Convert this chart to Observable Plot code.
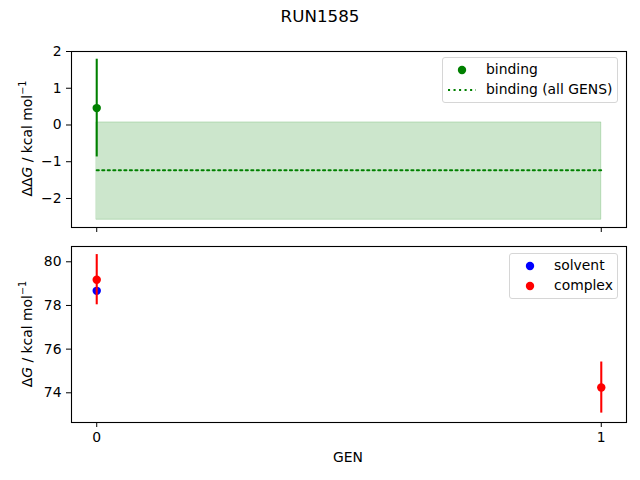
<!DOCTYPE html>
<html><head><meta charset="utf-8">
<script src="https://cdn.jsdelivr.net/npm/d3@7"></script>
<script src="https://cdn.jsdelivr.net/npm/@observablehq/plot@0.6"></script>
<style>
body{margin:0;background:#fff;}
#fig{position:relative;width:640px;height:480px;font-family:"DejaVu Sans",sans-serif;overflow:hidden;background:#fff;}
#fig .title{position:absolute;left:0;width:640px;top:6px;text-align:center;font-size:16.7px;line-height:20px;z-index:5;}
#fig .panel{position:absolute;left:0;}
#fig .legend{position:absolute;box-sizing:border-box;background:rgba(255,255,255,0.8);border:1px solid #d6d6d6;border-radius:3px;font-size:13.9px;z-index:6;}
#fig .legend .row{position:absolute;white-space:nowrap;line-height:16px;}
#fig .legend svg{position:absolute;}
</style>
</head><body>
<div id="fig">
  <div class="panel" id="top" style="top:0px"></div>
  <div class="panel" id="bottom" style="top:240px"></div>
  <div class="title">RUN1585</div>
</div>
<script>
// ---- data ----
const gens = [0, 1];
const bindingGen = [0];
const bindingVal = [0.46];
const bindingErr = [1.33];
const allGensGen = [0, 1];
const allGensVal = [-1.23, -1.23];
const allGensLow = [-2.58, -2.58];
const allGensHigh = [0.07, 0.07];
const solventGen = [0];
const solventVal = [78.67];
const complexGen = [0, 1];
const complexVal = [79.18, 74.24];
const complexErr = [1.15, 1.17];
const topTicks = [-2, -1, 0, 1, 2];
const bottomTicks = [74, 76, 78, 80];

const binding = bindingGen.map((g, i) => ({x: g, y: bindingVal[i], lo: bindingVal[i] - bindingErr[i], hi: bindingVal[i] + bindingErr[i]}));
const band = allGensGen.map((g, i) => ({x: g, y: allGensVal[i], lo: allGensLow[i], hi: allGensHigh[i]}));
const solvent = solventGen.map((g, i) => ({x: g, y: solventVal[i]}));
const complex = complexGen.map((g, i) => ({x: g, y: complexVal[i], lo: complexVal[i] - complexErr[i], hi: complexVal[i] + complexErr[i]}));

const FONT = '"DejaVu Sans", sans-serif';
const fmt = d => (d < 0 ? "\u2212" : "") + Math.abs(d).toFixed(0);
const common = {
  width: 640, height: 240, marginLeft: 71, marginRight: 14,
  style: {fontFamily: FONT, fontSize: "13.9px", color: "black", background: "transparent", overflow: "visible"},
  x: {domain: [-0.05, 1.05]}
};

const topPlot = Plot.plot({
  ...common,
  marginTop: 51, marginBottom: 13,
  y: {domain: [-2.79, 2.0]},
  marks: [
    Plot.areaY(band, {x: "x", y1: "lo", y2: "hi", fill: "green", fillOpacity: 0.2, stroke: "green", strokeOpacity: 0.2, strokeWidth: 1}),
    Plot.lineY(band, {x: "x", y: "y", stroke: "green", strokeWidth: 2.08, strokeDasharray: "2.08,3.44"}),
    Plot.ruleX(binding, {x: "x", y1: "lo", y2: "hi", stroke: "green", strokeWidth: 2.08}),
    Plot.dot(binding, {x: "x", y: "y", r: 4.2, fill: "green"}),
    Plot.frame({stroke: "black", strokeWidth: 1.1}),
    Plot.axisX({ticks: gens, tickFormat: () => "", tickSize: 5, label: null}),
    Plot.axisY({ticks: topTicks, tickFormat: fmt, tickSize: 5, tickPadding: 5, label: null})
  ]
});

const bottomPlot = Plot.plot({
  ...common,
  marginTop: 6, marginBottom: 58,
  y: {domain: [72.64, 80.70]},
  marks: [
    Plot.dot(solvent, {x: "x", y: "y", r: 4.2, fill: "blue"}),
    Plot.ruleX(complex, {x: "x", y1: "lo", y2: "hi", stroke: "red", strokeWidth: 2.08}),
    Plot.dot(complex, {x: "x", y: "y", r: 4.2, fill: "red"}),
    Plot.frame({stroke: "black", strokeWidth: 1.1}),
    Plot.axisX({ticks: gens, tickFormat: fmt, tickSize: 5, tickPadding: 5, label: null}),
    Plot.axisY({ticks: bottomTicks, tickFormat: fmt, tickSize: 5, tickPadding: 5, label: null})
  ]
});

document.getElementById("top").appendChild(topPlot);
document.getElementById("bottom").appendChild(bottomPlot);

function yLabel(svg, cy, delta) {
  const t = d3.select(svg).append("text")
    .attr("transform", `translate(27,${cy}) rotate(-90)`)
    .attr("text-anchor", "middle")
    .attr("dominant-baseline", "central")
    .attr("font-family", FONT).attr("font-size", "13.9px").attr("fill", "black");
  t.append("tspan").text(delta);
  t.append("tspan").attr("font-style", "italic").text("G");
  t.append("tspan").text(" / kcal mol");
  t.append("tspan").attr("font-size", "9.7px").attr("dy", "-5").text("\u22121");
}
yLabel(topPlot, 138.5, "\u0394\u0394");
yLabel(bottomPlot, 94, "\u0394");

d3.select(bottomPlot).append("text")
  .attr("x", 348).attr("y", 217)
  .attr("text-anchor", "middle").attr("dominant-baseline", "central")
  .attr("font-family", FONT).attr("font-size", "13.9px").attr("fill", "black")
  .text("GEN");

// ---- legends ----
const fig = document.getElementById("fig");
function legend(box, entries) {
  const div = document.createElement("div");
  div.className = "legend";
  Object.assign(div.style, {left: box[0] + "px", top: box[1] + "px", width: box[2] + "px", height: box[3] + "px"});
  entries.forEach(e => {
    const sw = document.createElementNS("http://www.w3.org/2000/svg", "svg");
    sw.setAttribute("width", 34); sw.setAttribute("height", 12);
    sw.style.left = (e.sx) + "px"; sw.style.top = (e.cy - 6) + "px";
    if (e.kind === "dot") {
      const c = document.createElementNS("http://www.w3.org/2000/svg", "circle");
      c.setAttribute("cx", 17); c.setAttribute("cy", 6); c.setAttribute("r", 4.2); c.setAttribute("fill", e.color);
      sw.appendChild(c);
    } else {
      const l = document.createElementNS("http://www.w3.org/2000/svg", "line");
      l.setAttribute("x1", 3); l.setAttribute("x2", 31); l.setAttribute("y1", 6); l.setAttribute("y2", 6);
      l.setAttribute("stroke", e.color); l.setAttribute("stroke-width", 2.08); l.setAttribute("stroke-dasharray", "2.08,3.44");
      sw.appendChild(l);
    }
    div.appendChild(sw);
    const r = document.createElement("div");
    r.className = "row";
    r.style.left = e.tx + "px"; r.style.top = (e.cy - 9) + "px";
    r.textContent = e.label;
    div.appendChild(r);
  });
  fig.appendChild(div);
}
legend([442, 57, 176, 46], [
  {kind: "dot", color: "green", label: "binding", sx: 2, tx: 43, cy: 12},
  {kind: "line", color: "green", label: "binding (all GENS)", sx: 2, tx: 43, cy: 32}
]);
legend([509, 253, 109, 46], [
  {kind: "dot", color: "blue", label: "solvent", sx: 3, tx: 44, cy: 12},
  {kind: "dot", color: "red", label: "complex", sx: 3, tx: 44, cy: 32}
]);
</script>
</body></html>
